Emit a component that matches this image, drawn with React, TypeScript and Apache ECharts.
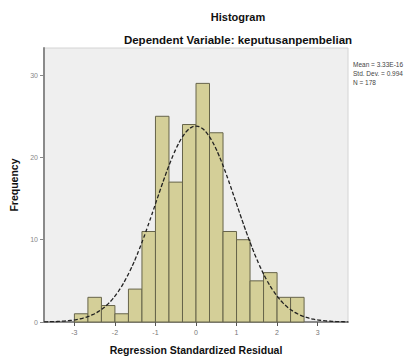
import React, { useEffect, useRef } from "react";
import * as echarts from "echarts";

// Histogram bins (lower edge, upper edge) and frequencies
const binLower = [-9 / 3, -8 / 3, -7 / 3, -6 / 3, -5 / 3, -4 / 3, -3 / 3, -2 / 3, -1 / 3, 0, 1 / 3, 2 / 3, 3 / 3, 4 / 3, 5 / 3, 6 / 3, 7 / 3];
const binUpper = [-8 / 3, -7 / 3, -6 / 3, -5 / 3, -4 / 3, -3 / 3, -2 / 3, -1 / 3, 0, 1 / 3, 2 / 3, 3 / 3, 4 / 3, 5 / 3, 6 / 3, 7 / 3, 8 / 3];
const frequencies = [1, 3, 2, 1, 4, 11, 25, 17, 24, 29, 23, 11, 10, 5, 6, 3, 3];

const xTicks = [-3, -2, -1, 0, 1, 2, 3];
const yTicks = [0, 10, 20, 30];

// Fitted normal curve parameters (from legend)
const mean = 0;
const stdDev = 0.994;
const n = 178;
const binWidth = 1 / 3;
const legendLines = ["Mean = 3.33E-16", "Std. Dev. = 0.994", "N = 178"];

export default function App() {
  const ref = useRef<HTMLDivElement>(null);
  useEffect(() => {
    if (!ref.current) return;
    const chart = echarts.init(ref.current, null, { renderer: "svg" });
    const barData = binLower.map((lo, i) => [lo, binUpper[i], frequencies[i]]);
    const curve: number[][] = [];
    for (let x = -3.75; x <= 3.7501; x += 0.05) {
      const z = (x - mean) / stdDev;
      curve.push([x, (n * binWidth * Math.exp(-0.5 * z * z)) / (stdDev * Math.sqrt(2 * Math.PI))]);
    }
    const font = "'Liberation Sans', Arial, sans-serif";
    chart.setOption({
      animation: false,
      backgroundColor: "#ffffff",
      textStyle: { fontFamily: font },
      title: [
        {
          text: "Histogram",
          left: 233,
          textAlign: "center",
          top: 6,
          textStyle: { fontSize: 11, fontWeight: "bold", color: "#111", fontFamily: font },
        },
        {
          text: "Dependent Variable: keputusanpembelian",
          left: 233,
          textAlign: "center",
          top: 29,
          textStyle: { fontSize: 11.5, fontWeight: "bold", color: "#111", fontFamily: font },
        },
      ],
      grid: {
        left: 44,
        right: 65,
        top: 48,
        bottom: 34,
        show: true,
        backgroundColor: "#efefef",
        borderColor: "#d4d4d4",
        borderWidth: 1,
      },
      xAxis: {
        type: "value",
        min: -3.75,
        max: 3.75,
        name: "Regression Standardized Residual",
        nameLocation: "middle",
        nameGap: 22,
        nameTextStyle: { fontSize: 10.5, fontWeight: "bold", color: "#111" },
        splitLine: { show: false },
        axisLine: { show: true, onZero: false, lineStyle: { color: "#8a8a8a", width: 2 } },
        axisTick: { show: true, customValues: xTicks, length: 4, lineStyle: { color: "#555", width: 1 } },
        axisLabel: { customValues: xTicks, fontSize: 7, color: "#777", margin: 7 },
      },
      yAxis: {
        type: "value",
        min: 0,
        max: 33.3,
        name: "Frequency",
        nameLocation: "middle",
        nameGap: 17,
        nameRotate: 90,
        nameTextStyle: { fontSize: 10.5, fontWeight: "bold", color: "#111" },
        splitLine: { show: false },
        axisLine: { show: true, onZero: false, lineStyle: { color: "#8a8a8a", width: 2 } },
        axisTick: { show: true, customValues: yTicks, length: 4, lineStyle: { color: "#888", width: 1 } },
        axisLabel: { customValues: yTicks, fontSize: 7, color: "#888", margin: 6 },
      },
      graphic: legendLines.map((t, i) => ({
        type: "text",
        left: 353,
        top: 61 + i * 9,
        style: { text: t, fontSize: 6.5, fill: "#444", fontFamily: font },
      })),
      series: [
        {
          type: "custom",
          data: barData,
          encode: { x: [0, 1], y: 2 },
          renderItem: (params: any, api: any) => {
            const p0 = api.coord([api.value(0), 0]);
            const p1 = api.coord([api.value(1), api.value(2)]);
            return {
              type: "rect",
              shape: { x: p0[0], y: p1[1], width: p1[0] - p0[0], height: p0[1] - p1[1] },
              style: { fill: "#d4cf98", stroke: "#66644a", lineWidth: 1 },
            };
          },
          z: 2,
        },
        {
          type: "line",
          data: curve,
          showSymbol: false,
          smooth: true,
          lineStyle: { color: "#222", width: 1.3, type: [4, 2] },
          z: 3,
        },
      ],
    });
    return () => chart.dispose();
  }, []);
  return <div ref={ref} style={{ width: 413, height: 360, position: "absolute", left: 0, top: 0 }} />;
}
